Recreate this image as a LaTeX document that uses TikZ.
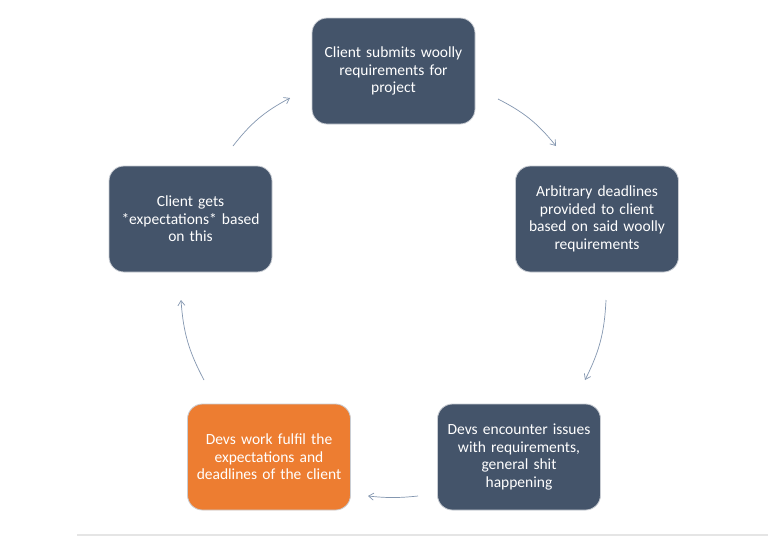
\documentclass[tikz,border=0pt]{standalone}
\usepackage{fontspec}
\setmainfont{Carlito}
\usetikzlibrary{arrows.meta}
\definecolor{boxblue}{HTML}{44546A}
\definecolor{boxorange}{HTML}{ED7D31}
\definecolor{arrowgray}{HTML}{8497B0}
\definecolor{edgegray}{HTML}{C9CDD3}
\begin{document}
\begin{tikzpicture}[x=1pt,y=-1pt,
  stagebox/.style={draw=edgegray,line width=0.8pt,rounded corners=15pt,
    minimum width=163pt,minimum height=106pt,text width=155pt,align=center,
    text=white,font=\fontsize{15.5}{17.5}\selectfont,inner sep=0pt},
  cyclearrow/.style={draw=arrowgray,line width=0.7pt,-{Straight Barb[length=5pt,width=7pt]}}]
\useasboundingbox[fill=white] (0,0) rectangle (768,536);
\draw[draw=gray!20,line width=1.5pt] (77,535) -- (768,535);
\node[stagebox,fill=boxblue] (top) at (393.5,71) {Client submits woolly\\requirements for\\project};
\node[stagebox,fill=boxblue] (right) at (597,219) {Arbitrary deadlines\\provided to client\\based on said woolly\\requirements};
\node[stagebox,fill=boxblue] (br) at (519,457) {Devs encounter issues\\with requirements,\\general shit\\happening};
\node[stagebox,fill=boxorange] (bl) at (269,457) {Devs work fulfil the\\expectations and\\deadlines of the client};
\node[stagebox,fill=boxblue] (left) at (190.5,219) {Client gets\\{}*expectations* based\\on this};
\coordinate (a1s) at (498,99);  \coordinate (a1e) at (556,146);
\coordinate (a2s) at (606,300); \coordinate (a2e) at (585,380);
\coordinate (a3s) at (418,496); \coordinate (a3e) at (368,496);
\coordinate (a4s) at (204,380); \coordinate (a4e) at (181,300);
\coordinate (a5s) at (233,146); \coordinate (a5e) at (290,98);
\draw[cyclearrow] (a1s) to[bend left=12] (a1e);
\draw[cyclearrow] (a2s) to[bend left=12] (a2e);
\draw[cyclearrow] (a3s) to[bend left=6] (a3e);
\draw[cyclearrow] (a4s) to[bend left=12] (a4e);
\draw[cyclearrow] (a5s) to[bend left=12] (a5e);
\end{tikzpicture}
\end{document}
